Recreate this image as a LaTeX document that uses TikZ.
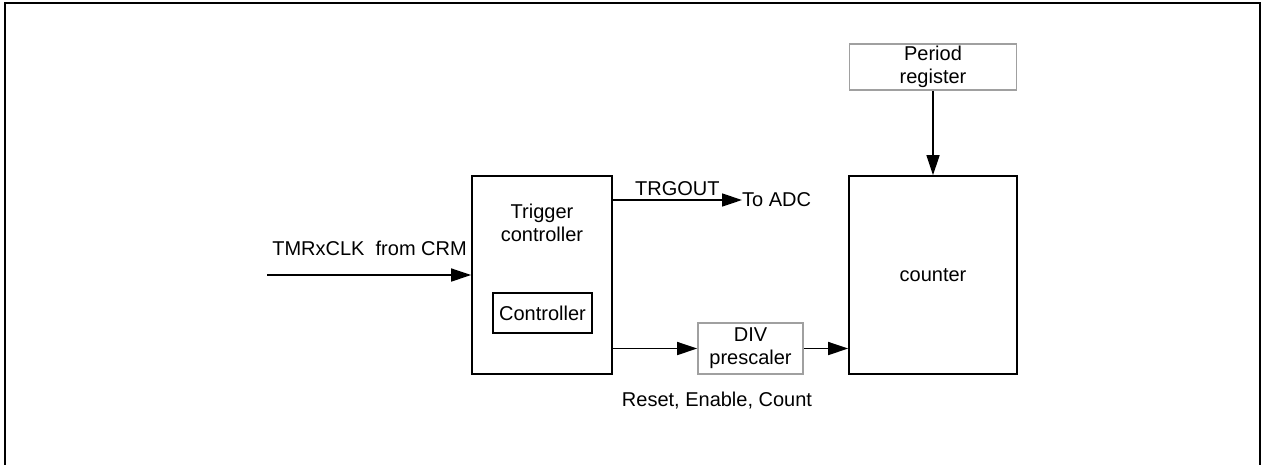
\documentclass[tikz,border=0pt]{standalone}
\usepackage{fontspec}
\setmainfont{Liberation Sans}
\usepackage{tikz}
\usetikzlibrary{arrows.meta,positioning}
\definecolor{lightframe}{RGB}{160,160,160}

\begin{document}
\begin{tikzpicture}[x=1pt, y=-1pt,
  box/.style={rectangle, draw=black, line width=1.6pt, align=center, inner sep=0pt,
              font=\fontsize{20}{23}\selectfont},
  greybox/.style={box, draw=lightframe},
  txt/.style={inner sep=0pt, align=center, font=\fontsize{20}{23}\selectfont},
  arrow/.style={-{Triangle[length=20pt, width=13pt]}, line width=1.4pt}
]
\useasboundingbox (0,0) rectangle (1265,464);
% outer frame
\draw[line width=2.5pt] (5,466) -- (5,3) -- (1260,3) -- (1260,466);

% blocks
\node[box, minimum width=140pt, minimum height=198pt] (trig) at (542,275) {};
\node[txt] (trigtxt) at (542,223) {Trigger\\controller};
\node[box, minimum width=99pt, minimum height=40pt] (ctrl) at (542.5,313) {Controller};
\node[greybox, minimum width=105pt, minimum height=51pt] (div) at (750.5,348.5) {DIV\\prescaler};
\node[box, minimum width=168pt, minimum height=198pt] (counter) at (933,275) {counter};
\node[greybox, minimum width=167pt, minimum height=46pt] (period) at (933,67) {Period\\register};

% labels
\coordinate (clkin) at (267,275);
\node[txt, anchor=south east] (clklbl) at (467,256) {TMRxCLK\ \ from CRM};
\node[txt, anchor=west] (toadc) at (742,200) {To ADC};
\node[txt] (rec) at (717,401) {Reset, Enable, Count};

% connections
\draw[arrow] (clkin) -- (clkin -| trig.west);
\draw[arrow] (toadc.west -| trig.east) -- node[txt, above, yshift=4pt]{TRGOUT} (toadc.west);
\draw[arrow] (div.west -| trig.east) -- (div.west);
\draw[arrow] (div.east) -- (div.east -| counter.west);
\draw[arrow] (period.south) -- (counter.north);
\end{tikzpicture}
\end{document}
